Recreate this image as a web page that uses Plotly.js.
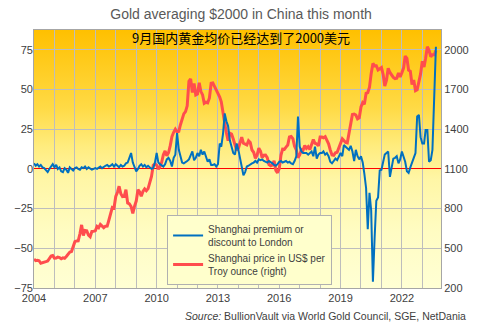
<!DOCTYPE html>
<html>
<head>
<meta charset="utf-8">
<script src="https://cdn.plot.ly/plotly-3.0.1.min.js"></script>
<style>
  html, body { margin: 0; padding: 0; background: #ffffff; }
  #wrap { position: relative; width: 490px; height: 333px; }
  #bg { position: absolute; left: 34px; top: 30px; width: 407px; height: 258px;
        background: linear-gradient(to bottom, #FFC000 0%, #FFDA45 30%, #FFEC7E 45%, #FFF6A6 58%, #FFFCC2 78%, #FFFFD4 100%); }
  #chart { position: absolute; left: 0; top: 0; width: 490px; height: 333px; }
</style>
</head>
<body>
<div id="wrap"><div id="bg"></div><div id="chart"></div></div>
<script>
// Monthly data, Jan 2004 .. Sep 2023
var startYear = 2004;
var tickYears = ['2004','2007','2010','2013','2016','2019','2022'];

// Shanghai premium / discount to London (US$/oz), left axis
var premium = [
  3.5, 2, 3, 1.5, 2.5, 1, 0.5, -1, -2, 0, 1.5, 3,            // 2004
  1, 2.5, 0, 1, -1.5, -2, 0.5, -0.5, -2.5, 1, 0, -1,         // 2005
  0.5, 1, 0, -0.5, 1, 0.5, 1.5, 0, 1, 0.5, -0.5, 0,          // 2006
  0.5, 0, 1, 1.5, 0.5, 1, 2, 2.5, 1.5, 2, 3, 1.5,            // 2007
  3, 2, 1, 2.5, 1.5, 2, 3.5, 4, 7, 10, 4, 1,                 // 2008
  -1.5, 0, 2, 3, 1.5, 2.5, 1, 2, 1, 0, 0.5, 4,               // 2009
  10, 4, 3, 2, 1.5, 3, 6, 7, 5, 1.5, 7, 9,                   // 2010
  22.5, 12, 8, 4, 3.5, 4, 5, 6, 9, 11, 5.5, 7,               // 2011
  10, 8, 12, 9, 11, 8, 4.5, 6, 2.5, 2.5, 3, 1.5,             // 2012
  3, 16, 14, 22, 35, 30, 27, 18, 14, 10, 9, 16,              // 2013
  12, 6, 3, -4, -2, 1.5, 2, 3, 3.5, 4, 5, 4,                 // 2014
  6, 5.5, 6, 5, 4.5, 4, 5, 4.5, 3.5, 2.5, 2, 3,              // 2015
  4.5, 5, 4, 4.5, 5, 4, 4.5, 3.5, 3, 5, 8, 33,               // 2016
  14, 11, 10, 10, 10, 9, 10, 11, 8, 14, 6.5, 9,              // 2017
  10, 10, 11, 9, 10, 8, 4.5, 3.5, 5, 6.5, 5.5, 8,            // 2018
  10, 8, 15, 14, 13, 12, 14.5, 11, 5, 12, 8, 6,              // 2019
  8, 4, -3, -12, -38, -15, -26, -71, -43, -20, -18, -1,      // 2020
  -0.5, 4, 9, 10, 11, -5, 2, 6.5, 7, 8, 3.5, 6,              // 2021
  11, 8, 4.5, -1.5, -2.5, 1, 4.5, 7, 10, 33, 34, 20,         // 2022
  16, 16, 24.5, 24.5, 4.5, 5.5, 12, 45, 77                   // 2023
];

// Shanghai gold price in US$ per troy ounce, right axis
var price = [
  418, 407, 409, 406, 387, 393, 399, 399, 404, 420, 441, 445,
  425, 426, 434, 430, 421, 428, 425, 438, 454, 471, 476, 509,
  550, 556, 557, 610, 677, 597, 635, 632, 599, 587, 628, 629,
  632, 665, 656, 681, 668, 656, 667, 668, 714, 756, 809, 805,
  892, 924, 969, 912, 890, 892, 943, 843, 836, 816, 764, 817,
  857, 943, 927, 893, 930, 949, 935, 951, 997, 1043, 1128, 1138,
  1128, 1099, 1116, 1150, 1207, 1236, 1199, 1222, 1276, 1344, 1377, 1400,
  1379, 1384, 1432, 1478, 1516, 1533, 1577, 1762, 1781, 1677, 1745, 1659,
  1666, 1751, 1686, 1659, 1596, 1604, 1599, 1636, 1747, 1750, 1725, 1690,
  1674, 1643, 1607, 1509, 1449, 1373, 1313, 1370, 1363, 1326, 1284, 1241,
  1256, 1306, 1339, 1295, 1285, 1281, 1313, 1299, 1243, 1226, 1181, 1205,
  1257, 1233, 1185, 1203, 1204, 1185, 1133, 1123, 1129, 1162, 1088, 1071,
  1102, 1205, 1250, 1248, 1265, 1280, 1342, 1345, 1329, 1272, 1244, 1185,
  1206, 1245, 1241, 1276, 1256, 1269, 1247, 1294, 1322, 1294, 1289, 1274,
  1341, 1341, 1336, 1344, 1313, 1290, 1243, 1206, 1203, 1222, 1226, 1258,
  1301, 1328, 1315, 1300, 1297, 1371, 1429, 1511, 1515, 1507, 1478, 1486,
  1568, 1601, 1589, 1671, 1677, 1717, 1820, 1897, 1879, 1880, 1848, 1857,
  1867, 1812, 1727, 1770, 1861, 1829, 1809, 1792, 1782, 1785, 1825, 1796,
  1828, 1864, 1953, 1936, 1847, 1838, 1738, 1772, 1691, 1698, 1760, 1818,
  1914, 1870, 1937, 2024, 1997, 1948, 1963, 1963, 1994
];

var seriesNames = ['Shanghai premium or<br>discount to London',
                   'Shanghai price in US$ per<br>Troy ounce (right)'];

var months = [];
for (var i = 0; i < premium.length; i++) {
  var y = startYear + Math.floor(i / 12), m = (i % 12) + 1;
  months.push(y + '-' + (m < 10 ? '0' + m : m) + '-01');
}

var FONT = 'Arial, "Liberation Sans", sans-serif';
var GRID = '#BDBDBD';

var traces = [
  { x: months, y: premium, type: 'scatter', mode: 'lines', name: seriesNames[0],
    yaxis: 'y2', line: { color: '#0070C0', width: 2 } },
  { x: months, y: price, type: 'scatter', mode: 'lines', name: seriesNames[1],
    yaxis: 'y', line: { color: '#FF4D4D', width: 3 } }
];

var layout = {
  width: 490, height: 333,
  margin: { l: 34, r: 49, t: 30, b: 45 },
  paper_bgcolor: 'rgba(0,0,0,0)',
  plot_bgcolor: 'rgba(0,0,0,0)',
  font: { family: FONT, size: 11, color: '#404040' },
  showlegend: true,
  title: { text: 'Gold averaging $2000 in China this month',
           font: { family: FONT, size: 14, color: '#595959' },
           xref: 'container', x: 0.492, xanchor: 'center',
           yref: 'container', y: 0.958, yanchor: 'middle' },
  xaxis: {
    type: 'date', range: ['2004-01-01', '2023-12-01'],
    tickvals: tickYears.map(function (t) { return t + '-01-01'; }),
    ticktext: tickYears,
    ticks: '', showgrid: true, gridcolor: GRID, gridwidth: 1,
    minor: { dtick: 'M12', tick0: '2004-01-01', showgrid: true, gridcolor: GRID, gridwidth: 1 },
    showline: true, mirror: true, linecolor: '#A6A6A6', linewidth: 1,
    zeroline: false, tickfont: { family: FONT, size: 11, color: '#404040' }
  },
  yaxis: {
    side: 'right', range: [200, 2150], tick0: 200, dtick: 300,
    showgrid: true, gridcolor: GRID, gridwidth: 1, zeroline: false,
    showline: true, mirror: true, linecolor: '#A6A6A6', linewidth: 1,
    ticks: '', tickfont: { family: FONT, size: 11, color: '#404040' }
  },
  yaxis2: {
    side: 'left', overlaying: 'y', range: [-75, 87.5], tick0: -75, dtick: 25,
    showgrid: false, zeroline: true, zerolinecolor: '#FF0000', zerolinewidth: 1,
    ticks: '', tickfont: { family: FONT, size: 11, color: '#404040' }
  },
  legend: {
    x: 0.327, y: 0.283, xanchor: 'left', yanchor: 'top',
    bgcolor: '#FFFFCC', bordercolor: '#B0B0B0', borderwidth: 1,
    font: { family: FONT, size: 10, color: '#404040' },
    itemwidth: 30, tracegroupgap: 0
  },
  annotations: [
    { text: '9月国内黄金均价已经达到了2000美元', xref: 'paper', yref: 'paper',
      x: 0.508, y: 0.969, xanchor: 'center', yanchor: 'middle', showarrow: false,
      font: { family: '"Noto Sans CJK SC", sans-serif', size: 13, color: '#000000' } },
    { text: '<i>Source:</i> BullionVault via World Gold Council, SGE, NetDania',
      xref: 'paper', yref: 'paper', x: 1.066, y: -0.11, xanchor: 'right', yanchor: 'middle',
      showarrow: false, font: { family: FONT, size: 10.5, color: '#404040' } }
  ]
};

Plotly.newPlot('chart', traces, layout, { displayModeBar: false, staticPlot: true });
</script>
</body>
</html>
